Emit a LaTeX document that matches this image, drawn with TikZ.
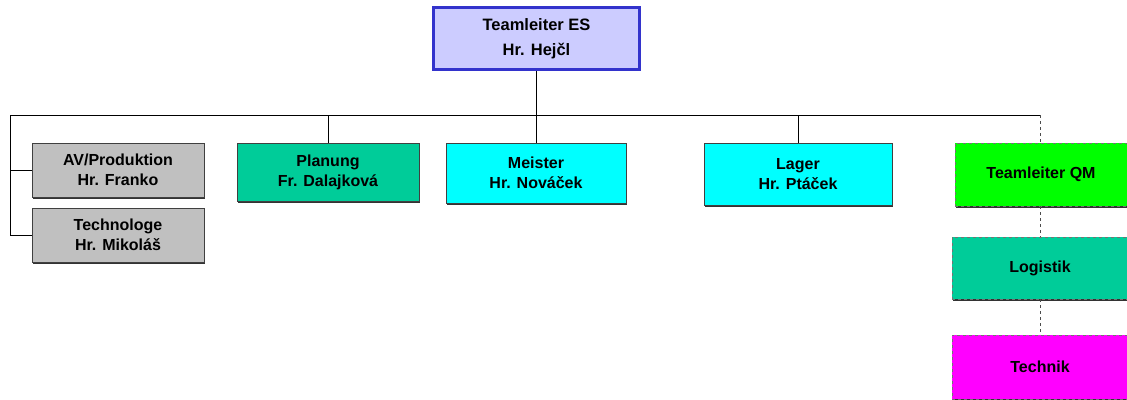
\documentclass[tikz,border=0pt]{standalone}
\usepackage{fontspec}
\setmainfont{Liberation Sans}
\usetikzlibrary{shadows}
\definecolor{lavendel}{RGB}{204,204,255}
\definecolor{randblau}{RGB}{51,51,204}
\definecolor{grau}{RGB}{192,192,192}
\definecolor{tuerkis}{RGB}{0,204,153}
\definecolor{hellcyan}{RGB}{0,255,255}
\definecolor{hellgruen}{RGB}{0,255,0}
\definecolor{pink}{RGB}{255,0,255}
\tikzstyle{chef} = [rectangle, minimum width=206pt, minimum height=62pt, text centered, align=center, draw=randblau, line width=3pt, fill=lavendel, font=\bfseries\fontsize{16.5}{25}\selectfont]
\tikzstyle{abteilung} = [rectangle, text centered, align=center, draw=black!75, line width=0.8pt, font=\bfseries\fontsize{16}{20}\selectfont, drop shadow={shadow xshift=1pt, shadow yshift=-1.5pt, fill=black!80, opacity=1}]
\tikzstyle{extern} = [abteilung, dashed, draw=black!55]
\tikzstyle{line} = [line width=0.9pt]

\begin{document}
\begin{tikzpicture}[x=1pt, y=-1pt]
      \useasboundingbox (0,0) rectangle (1127,399);
      \clip (0,0) rectangle (1127,399);
      \node (leiter) [chef] at (536.5,38.5) {Teamleiter ES\\Hr. Hejčl};
      \node (avprod) [abteilung, fill=grau, minimum width=172pt, minimum height=54pt] at (118,170) {AV/Produktion\\Hr. Franko};
      \node (techno) [abteilung, fill=grau, minimum width=172pt, minimum height=54pt] at (118,235) {Technologe\\Hr. Mikoláš};
      \node (planung) [abteilung, fill=tuerkis, minimum width=182pt, minimum height=58pt] at (328,172) {Planung\\Fr. Dalajková};
      \node (meister) [abteilung, fill=hellcyan, minimum width=180pt, minimum height=60pt] at (536,173) {Meister\\Hr. Nováček};
      \node (lager) [abteilung, fill=hellcyan, minimum width=188pt, minimum height=62pt] at (798,174) {Lager\\Hr. Ptáček};
      \node (qm) [extern, fill=hellgruen, minimum width=172pt, minimum height=63pt] at (1041,174.5) {Teamleiter QM};
      \node (logistik) [extern, fill=tuerkis, minimum width=176pt, minimum height=62pt] at (1040,268) {Logistik};
      \node (technik) [extern, fill=pink, minimum width=176pt, minimum height=64pt] at (1040,367) {Technik};

      \coordinate (busL) at (10,115);
      \coordinate (busR) at (1040,115);
      \draw[line] (leiter.south) -- (leiter.south |- busL);
      \draw[line] (busL) -- (busR);
      \draw[line] (busL) |- (techno.west);
      \draw[line] (busL |- avprod.west) -- (avprod.west);
      \draw[line] (planung.north) -- (planung.north |- busL);
      \draw[line] (meister.north) -- (meister.north |- busL);
      \draw[line] (lager.north) -- (lager.north |- busL);
      \draw[line, dashed, black!70] (busR) -- (busR |- qm.north);
      \draw[line, dashed, black!70] (qm.south -| busR) -- (logistik.north -| busR);
      \draw[line, dashed, black!70] (logistik.south -| busR) -- (technik.north -| busR);
\end{tikzpicture}
\end{document}
